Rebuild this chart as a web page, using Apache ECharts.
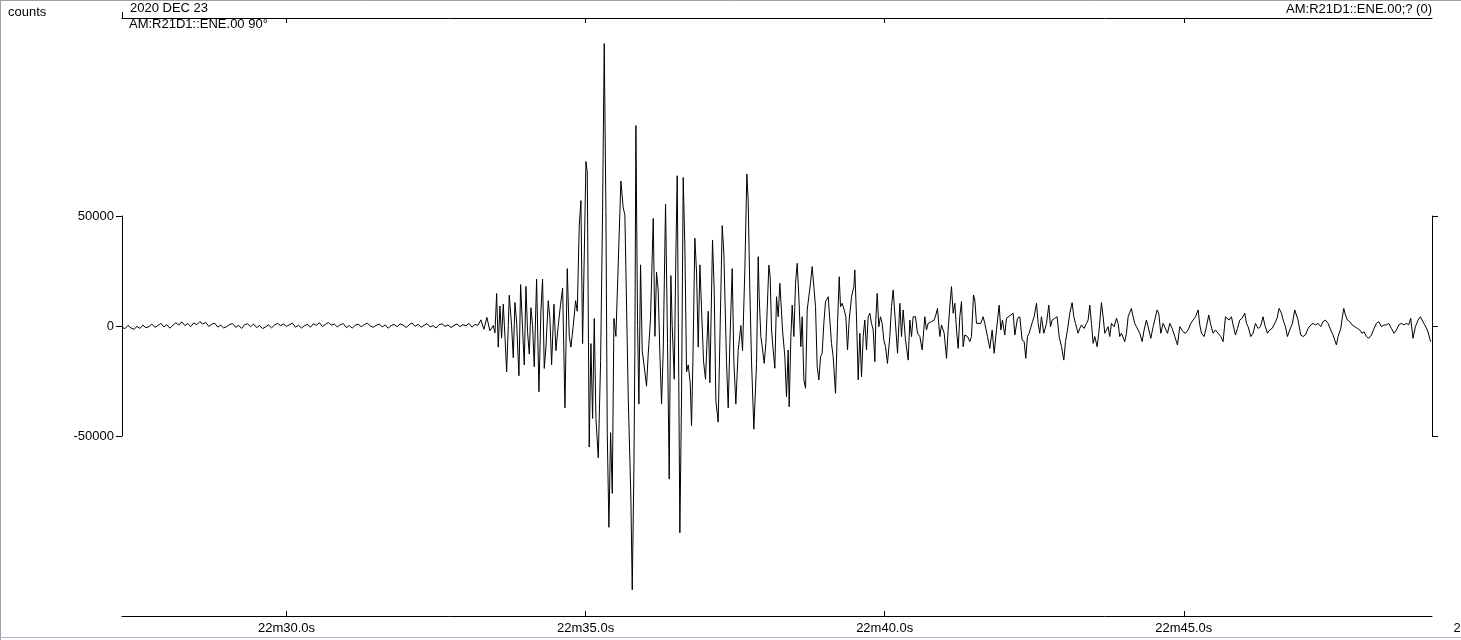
<!DOCTYPE html>
<html>
<head>
<meta charset="utf-8">
<script src="https://cdn.jsdelivr.net/npm/echarts@6/dist/echarts.min.js"></script>
<style>
html,body{margin:0;padding:0;background:#fff;}
#chart{width:1461px;height:640px;}
</style>
</head>
<body>
<div id="chart"></div>
<script>
// ---- data (time in seconds after 22m, amplitude in counts) ----
const timeTicks = [30, 35, 40, 45];
const yTicks = [-50000, 0, 50000];
const noiseStart = 27.25;
const noiseStep = 0.05;
const noiseCounts = [
 -600,-1200,300,-900,-1500,-200,-1100,400,-800,-300,
 900,-600,200,1200,-400,600,-1000,300,1500,400,
 1900,200,1100,-300,1400,600,2000,900,1600,-200,
 800,1300,-500,400,-900,-300,700,1100,-600,300,
 -1100,600,1000,-300,900,-700,200,-1200,-400,500,
 -800,400,1200,200,900,-200,600,1300,-500,300,
 -900,100,800,-600,1000,300,1500,-200,700,1600,
 400,900,-400,600,1100,-700,200,-1000,400,800,
 -300,600,1300,100,-600,300,900,-400,500,-1000,
 200,700,-300,1000,400,-700,500,1400,-200,800,
 -600,300,1100,-400,200,-900,600,1000,-200,500,
 -700,300,900,-300,600,100,1200,-500,700,300,
 2800,-1500,3900,-2200
];
const onsetPhase = [
 [33.457,200],[33.485,-3100],[33.513,14800],[33.540,-9600],[33.568,9100],[33.596,-5500],[33.624,9900],[33.652,-4700],
 [33.680,-20900],[33.708,200],[33.724,14000],[33.763,200],[33.791,-14400],[33.819,10700],[33.847,1800],[33.886,-22600],
 [33.914,18800],[33.947,-1500],[33.975,-17700],[34.003,18000],[34.031,-3100],[34.059,-12800],[34.086,8300],[34.114,200],
 [34.142,-18500],[34.181,21300],[34.220,-29900],[34.253,6700],[34.281,21300],[34.309,-19300],[34.337,-9600],[34.376,11500],
 [34.404,3400],[34.432,-17700],[34.471,9900],[34.504,-11200],[34.543,200],[34.582,9900],[34.616,17200],[34.655,-37200],
 [34.694,26100],[34.727,-4700],[34.755,-9600],[34.794,200],[34.833,11500],[34.861,6700],[34.894,45600],[34.922,57000],
 [34.950,-8000],[34.978,32600],[35.006,74800],[35.028,70000],[35.061,-55000],[35.089,-8000],[35.117,-42000],[35.145,3400],
 [35.173,-42000],[35.212,-59900],[35.251,-16100],[35.284,52100],[35.312,128400],[35.340,52100],[35.362,-48500],[35.390,-91500],
 [35.418,-48500],[35.446,-76100],[35.474,3400],[35.507,-4700]
];
const strongPhase = [
 [35.590,65900],[35.629,53700],[35.657,50500],[35.713,-32300],[35.757,-77700],[35.780,-119900],[35.808,-64800],[35.824,-11200],
 [35.841,91100],[35.869,200],[35.891,-35500],[35.919,27800],[35.947,-11200],[35.991,-20900],[36.019,-27400],[36.047,-12800],
 [36.086,3400],[36.131,48900],[36.159,-4700],[36.186,24500],[36.214,16400],[36.242,-12800],[36.270,-35500],[36.298,-11200],
 [36.337,55300],[36.370,-8000],[36.398,-69600],[36.426,22900],[36.448,200],[36.482,-24200],[36.510,34200],[36.532,68300],
 [36.560,-32300],[36.576,-94000],[36.604,-32300],[36.632,67500],[36.660,35900],[36.688,-20900],[36.716,-17700],[36.749,-25800],
 [36.771,-45300],[36.794,-16100],[36.827,39900],[36.855,24500],[36.883,-9600],[36.911,27800],[36.938,8300],[36.972,-16100],
 [37.005,-24200],[37.050,6700],[37.078,-25800],[37.122,39100],[37.150,16400],[37.178,-33900],[37.217,-43700],[37.250,200],
 [37.284,45600],[37.312,32600],[37.356,-16100],[37.384,-37200],[37.412,-8000],[37.451,26100],[37.479,-16100],[37.512,-35500],
 [37.551,-11200],[37.596,200],[37.624,-11200],[37.663,26100],[37.696,69100],[37.718,57000],[37.746,16400],[37.774,-16100],
 [37.813,-46900]
];
const decayPhase = [
 [37.858,-17000],[37.886,31500],[37.902,13300],[37.930,-4800],[37.953,-9400],[37.986,-17000],[38.014,-7900],[38.042,11800],
 [38.064,27700],[38.086,22400],[38.109,-1800],[38.136,-10900],[38.164,-19200],[38.192,13300],[38.220,4200],[38.248,19400],
 [38.265,20100],[38.292,-1800],[38.331,-13900],[38.359,-32100],[38.387,-10900],[38.404,-36700],[38.432,-4800],[38.454,9500],
 [38.482,-4800],[38.510,19400],[38.538,28500],[38.565,13300],[38.599,-9400],[38.621,4200],[38.649,-24500],[38.677,-28300],
 [38.705,7300],[38.732,13300],[38.760,19400],[38.788,27000],[38.816,17900],[38.844,8800],[38.872,-18500],[38.900,-24500],
 [38.928,-13900],[38.955,-12400],[38.983,1200],[39.011,11100],[39.056,13300],[39.083,13300],[39.111,-7900],[39.139,-13900],
 [39.178,-30600],[39.212,1200],[39.240,22400],[39.262,8800],[39.290,10300],[39.323,7300],[39.351,4200],[39.379,-10900],
 [39.407,2700],[39.446,13300],[39.485,17900],[39.501,25500],[39.529,4200],[39.557,-24500],[39.585,-3300],[39.613,-23000],
 [39.641,-4800],[39.668,2700],[39.696,-10900],[39.724,4200],[39.752,5800],[39.780,1200],[39.808,-1800],[39.836,-16200],
 [39.852,2700],[39.875,14800],[39.902,-300],[39.930,4200],[39.958,1200],[39.986,-6400],[40.014,-9400],[40.047,-17000],
 [40.086,-4800],[40.114,8800],[40.142,16400]
];
const codaPhase = [
 [40.215,-12400],[40.254,10300],[40.281,-4800],[40.309,7300],[40.348,-6400],[40.393,-15500],[40.421,2700],[40.449,-4800],
 [40.476,4200],[40.515,4200],[40.549,-3300],[40.588,-4800],[40.627,-10900],[40.671,4200],[40.699,-1800],[40.727,1200],
 [40.783,2000],[40.827,2700],[40.855,5000],[40.883,8000],[40.922,-4800],[40.950,500],[40.995,-3300],[41.034,-14700],
 [41.061,-1800],[41.089,8800],[41.117,17900],[41.145,5800],[41.173,10300],[41.201,-1800],[41.229,-10200],[41.256,4200],
 [41.284,11100],[41.312,-9400],[41.340,-4100],[41.385,-4800],[41.424,-7100],[41.451,-4800],[41.485,14100],[41.507,11800],
 [41.535,1200],[41.563,500],[41.607,1200],[41.646,4200],[41.674,1200],[41.719,-4800],[41.758,-10200],[41.797,-1800],
 [41.830,-12400],[41.869,-1800],[41.914,9500],[41.942,-1800],[41.969,2700],[42.008,-4100],[42.036,3500],[42.064,4200],
 [42.109,5000],[42.148,5800],[42.176,-4100],[42.220,3500],[42.259,4200],[42.298,-6400],[42.332,-7100],[42.359,-14700],
 [42.387,-4800],[42.415,-3300],[42.443,-2600],[42.471,2000],[42.499,4200],[42.538,10300],[42.566,1200],[42.593,-3300],
 [42.621,4200],[42.660,-3300],[42.705,1200],[42.744,9500],[42.772,-300],[42.800,2700],[42.844,3500],[42.883,4200],
 [42.917,-4800],[42.956,-9400],[42.995,-15500],[43.023,-7100],[43.056,-1800],[43.095,5800],[43.134,10600],[43.162,4200],
 [43.190,1200],[43.234,-3300],[43.262,-1100],[43.290,500],[43.334,-1100],[43.373,1200],[43.401,2700],[43.429,9500],
 [43.457,1200],[43.485,-7900],[43.513,-4800],[43.552,-9400],[43.585,-1800],[43.624,10600],[43.652,4200],[43.680,-3300],
 [43.708,-1800],[43.735,-300],[43.763,-4800],[43.791,1200],[43.836,-300],[43.875,3500],[43.903,1200],[43.930,-4800],
 [43.958,-3300],[44.014,-7100],[44.042,-3300],[44.070,4200],[44.125,8000],[44.153,4200],[44.181,1200],[44.209,-300],
 [44.265,-3300],[44.304,-7100],[44.337,-1800],[44.376,2700],[44.404,-300],[44.449,-5600],[44.488,-300],[44.515,2700],
 [44.554,7300],[44.582,5800],[44.616,-3300],[44.655,1200]
];
const tailPhase = [
 [44.728,-3300],[44.767,1200],[44.806,-1100],[44.850,-4800],[44.895,-8600],[44.934,-300],[44.962,-1100],[44.989,-2600],
 [45.028,-3300],[45.073,-1800],[45.118,1200],[45.157,2700],[45.196,4200],[45.240,7300],[45.268,500],[45.296,-3300],
 [45.340,-4800],[45.379,-300],[45.418,5000],[45.452,500],[45.491,-3300],[45.530,-1800],[45.574,-3300],[45.619,-4800],
 [45.658,-7100],[45.697,4200],[45.730,5000],[45.758,2700],[45.797,4200],[45.825,500],[45.864,-4100],[45.898,-1100],
 [45.937,2700],[45.975,3500],[46.020,5800],[46.048,1200],[46.076,-300],[46.120,-4800],[46.159,-3300],[46.198,1200],
 [46.243,-1100],[46.282,-300],[46.326,4200],[46.354,500],[46.399,-3300],[46.438,-1800],[46.477,-1100],[46.521,1200],
 [46.560,3500],[46.594,8000],[46.633,5800],[46.661,2700],[46.700,-300],[46.733,-4800],[46.772,-1800],[46.817,1200],
 [46.856,7300],[46.884,6500],[46.911,2700],[46.956,-4100],[46.995,-4800],[47.034,-4100],[47.079,-1100],[47.123,500],
 [47.162,1200],[47.201,500],[47.246,1200],[47.290,-300],[47.329,2000],[47.368,2700],[47.413,1200],[47.457,-1800],
 [47.496,-4100],[47.524,-3300],[47.552,-8600],[47.580,-4800],[47.625,-1100],[47.652,4200],[47.675,8000],[47.703,5000],
 [47.736,2700],[47.775,2000],[47.814,500],[47.859,-300],[47.903,-1100],[47.942,-1800],[47.981,-3300],[48.015,-2600],
 [48.054,-4800],[48.093,-5600],[48.137,-4100],[48.182,-1100],[48.221,1200],[48.260,2000],[48.304,-300],[48.349,500],
 [48.388,500],[48.427,1200],[48.471,-1100],[48.516,-3300],[48.555,-1800],[48.594,500],[48.638,1200],[48.683,500],
 [48.722,1200],[48.761,500],[48.794,3500],[48.833,-5600],[48.872,-300],[48.917,2700],[48.956,4200],[48.984,2700],
 [49.028,500],[49.073,-1800],[49.101,-2600],[49.128,-7100]
];
// ---------------------------------------------------------------

const noisePhase = noiseCounts.map((c, i) => [+(noiseStart + i * noiseStep).toFixed(3), c]);
const trace = noisePhase.concat(onsetPhase, strongPhase, decayPhase, codaPhase, tailPhase);

const FONT = 'Liberation Sans, Arial, sans-serif';
const fmtTime = v => '22m' + v.toFixed(1) + 's';

const chart = echarts.init(document.getElementById('chart'), null, {renderer: 'canvas'});
chart.setOption({
  animation: false,
  backgroundColor: '#ffffff',
  grid: {left: 122, width: 1310, top: 216, height: 220, containLabel: false},
  xAxis: [
    {
      type: 'value', min: 27.25, max: 49.15, position: 'bottom', offset: 180,
      axisLine: {show: true, onZero: false, lineStyle: {color: '#000', width: 1}},
      axisTick: {show: true, inside: true, length: 5, customValues: timeTicks, lineStyle: {color: '#000'}},
      axisLabel: {show: true, customValues: timeTicks, formatter: fmtTime, color: '#000',
                  fontFamily: FONT, fontSize: 13, margin: 6},
      splitLine: {show: false}
    },
    {
      type: 'value', min: 27.25, max: 49.15, position: 'top', offset: 198,
      axisLine: {show: true, onZero: false, lineStyle: {color: '#000', width: 1}},
      axisTick: {show: true, inside: true, length: 5, customValues: timeTicks, lineStyle: {color: '#000'}},
      axisLabel: {show: false},
      splitLine: {show: false}
    }
  ],
  yAxis: [
    {
      type: 'value', min: -50000, max: 50000, interval: 50000, position: 'left',
      axisLine: {show: true, lineStyle: {color: '#000', width: 1}},
      axisTick: {show: true, inside: false, length: 6, lineStyle: {color: '#000'}},
      axisLabel: {show: true, formatter: v => String(v), color: '#000', fontFamily: FONT, fontSize: 13, margin: 8},
      splitLine: {show: false}
    },
    {
      type: 'value', min: -50000, max: 50000, interval: 50000, position: 'right',
      axisLine: {show: true, lineStyle: {color: '#000', width: 1}},
      axisTick: {show: true, inside: false, length: 6, lineStyle: {color: '#000'}},
      axisLabel: {show: false},
      splitLine: {show: false}
    }
  ],
  series: [{
    type: 'line',
    xAxisIndex: 0, yAxisIndex: 0,
    data: trace,
    showSymbol: false,
    clip: false,
    lineStyle: {color: '#000', width: 1},
    emphasis: {disabled: true}
  }],
  graphic: [
    {type: 'line', shape: {x1: 0, y1: 0.5, x2: 1461, y2: 0.5}, style: {stroke: '#a0a0a0', lineWidth: 1}, silent: true},
    {type: 'line', shape: {x1: 0.5, y1: 0, x2: 0.5, y2: 640}, style: {stroke: '#a0a0a0', lineWidth: 1}, silent: true},
    {type: 'line', shape: {x1: 0, y1: 637.5, x2: 1461, y2: 637.5}, style: {stroke: '#a8b8c8', lineWidth: 1}, silent: true},
    {type: 'line', shape: {x1: 122.5, y1: 12, x2: 122.5, y2: 18}, style: {stroke: '#000', lineWidth: 1}, silent: true},
    {type: 'text', left: 8, top: 6, style: {text: 'counts', font: '13px ' + FONT, fill: '#000'}},
    {type: 'text', left: 130, top: 2, style: {text: '2020 DEC 23', font: '13px ' + FONT, fill: '#000'}},
    {type: 'text', left: 129, top: 18, style: {text: 'AM:R21D1::ENE.00 90°', font: '13px ' + FONT, fill: '#000'}},
    {type: 'text', x: 1432, y: 3, style: {text: 'AM:R21D1::ENE.00;? (0)', font: '13px ' + FONT, fill: '#000', textAlign: 'right'}},
    {type: 'text', x: 1482, y: 622, style: {text: fmtTime(50), font: '13px ' + FONT, fill: '#000', textAlign: 'center'}}
  ]
});
</script>
</body>
</html>
